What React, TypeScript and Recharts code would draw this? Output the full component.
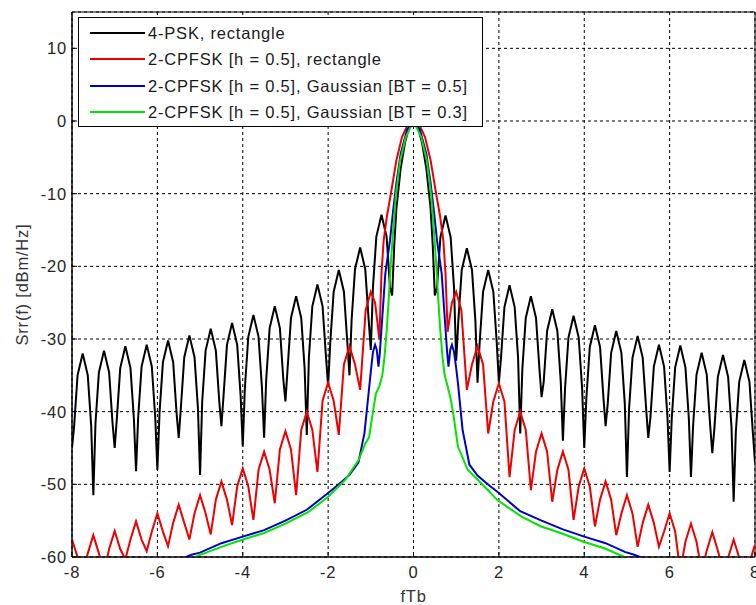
import { LineChart, Line, XAxis, YAxis, CartesianGrid, ReferenceArea, Legend } from "recharts"

const FONT = '"Liberation Sans", Arial, sans-serif'

const xTicks = [-8, -6, -4, -2, 0, 2, 4, 6, 8]
const yTicks = [-60, -50, -40, -30, -20, -10, 0, 10]

// [fTb, dBm/Hz]
const psk4Rect: [number, number][] = [
  [-8, -45],
  [-7.95, -42], [-7.87, -35], [-7.75, -32.0], [-7.63, -35], [-7.55, -42], [-7.5, -51.5],
  [-7.45, -41.6], [-7.37, -34.6], [-7.25, -31.6], [-7.13, -34.6], [-7.05, -41.6], [-7.0, -45],
  [-6.95, -41], [-6.87, -34], [-6.75, -31.0], [-6.63, -34], [-6.55, -41], [-6.5, -48.2],
  [-6.45, -40.8], [-6.37, -33.8], [-6.25, -30.8], [-6.13, -33.8], [-6.05, -40.8], [-6.0, -48],
  [-5.95, -40.2], [-5.87, -33.2], [-5.75, -30.2], [-5.63, -33.2], [-5.55, -40.2], [-5.5, -43.6],
  [-5.45, -39.5], [-5.37, -32.5], [-5.25, -29.5], [-5.13, -32.5], [-5.05, -39.5], [-5.0, -48.7],
  [-4.95, -38.6], [-4.87, -31.6], [-4.75, -28.6], [-4.63, -31.6], [-4.55, -38.6], [-4.5, -42],
  [-4.45, -37.8], [-4.37, -30.8], [-4.25, -27.8], [-4.13, -30.8], [-4.05, -37.8], [-4.0, -44.8],
  [-3.95, -36.7], [-3.87, -29.7], [-3.75, -26.7], [-3.63, -29.7], [-3.55, -36.7], [-3.5, -43.6],
  [-3.45, -35.5], [-3.37, -28.5], [-3.25, -25.5], [-3.13, -28.5], [-3.05, -35.5], [-3.0, -38.6],
  [-2.95, -34.1], [-2.87, -27.1], [-2.75, -24.1], [-2.63, -27.1], [-2.55, -34.1], [-2.5, -43.2],
  [-2.45, -32.5], [-2.37, -25.5], [-2.25, -22.5], [-2.13, -25.5], [-2.05, -32.5], [-2.0, -36.5],
  [-1.95, -30.5], [-1.87, -23.5], [-1.75, -20.5], [-1.63, -23.5], [-1.55, -30.5], [-1.5, -35],
  [-1.45, -27.4], [-1.37, -20.4], [-1.25, -17.4], [-1.13, -20.4], [-1.05, -27.4], [-1.0, -31.5],
  [-0.95, -22.9], [-0.87, -15.9], [-0.75, -12.9], [-0.63, -15.9], [-0.55, -22.9], [-0.5, -24],
  [-0.45, -17], [-0.4, -12], [-0.3, -6.5], [-0.2, -3], [-0.1, -0.8], [0, 0],
  [0.1, -0.8], [0.2, -3], [0.3, -6.5], [0.4, -12], [0.45, -17], [0.5, -24],
  [0.55, -23], [0.63, -16], [0.75, -13.0], [0.87, -16], [0.95, -23], [1.0, -33],
  [1.05, -27.5], [1.13, -20.5], [1.25, -17.5], [1.37, -20.5], [1.45, -27.5], [1.5, -36],
  [1.55, -30.5], [1.63, -23.5], [1.75, -20.5], [1.87, -23.5], [1.95, -30.5], [2.0, -36],
  [2.05, -32.6], [2.13, -25.6], [2.25, -22.6], [2.37, -25.6], [2.45, -32.6], [2.5, -43],
  [2.55, -34.1], [2.63, -27.1], [2.75, -24.1], [2.87, -27.1], [2.95, -34.1], [3.0, -38],
  [3.05, -35.9], [3.13, -28.9], [3.25, -25.9], [3.37, -28.9], [3.45, -35.9], [3.5, -44],
  [3.55, -36.8], [3.63, -29.8], [3.75, -26.8], [3.87, -29.8], [3.95, -36.8], [4.0, -45],
  [4.05, -38.1], [4.13, -31.1], [4.25, -28.1], [4.37, -31.1], [4.45, -38.1], [4.5, -42],
  [4.55, -38.9], [4.63, -31.9], [4.75, -28.9], [4.87, -31.9], [4.95, -38.9], [5.0, -49],
  [5.05, -39.6], [5.13, -32.6], [5.25, -29.6], [5.37, -32.6], [5.45, -39.6], [5.5, -43.6],
  [5.55, -40.8], [5.63, -33.8], [5.75, -30.8], [5.87, -33.8], [5.95, -40.8], [6.0, -48.3],
  [6.05, -40.9], [6.13, -33.9], [6.25, -30.9], [6.37, -33.9], [6.45, -40.9], [6.5, -49],
  [6.55, -41.9], [6.63, -34.9], [6.75, -31.9], [6.87, -34.9], [6.95, -41.9], [7.0, -45.7],
  [7.05, -42.2], [7.13, -35.2], [7.25, -32.2], [7.37, -35.2], [7.45, -42.2], [7.5, -52.4],
  [7.55, -42.9], [7.63, -35.9], [7.75, -32.9], [7.87, -35.9], [7.95, -42.9], [8.0, -47],
]

const cpfskRect: [number, number][] = [
  [-8, -57.6], [-7.87, -60], [-7.75, -62], [-7.63, -59.5], [-7.5, -57], [-7.37, -59.5],
  [-7.25, -62], [-7.13, -58.9], [-7.0, -56.4], [-6.87, -58.9],
  [-6.75, -60.3], [-6.63, -57.6], [-6.5, -55.1], [-6.37, -57.6],
  [-6.25, -59.2], [-6.13, -56.5], [-6.0, -54], [-5.87, -56.5],
  [-5.75, -58.5], [-5.63, -55.3], [-5.5, -52.8], [-5.37, -55.3],
  [-5.25, -57.6], [-5.13, -54], [-5.0, -51.5], [-4.87, -54],
  [-4.75, -56.9], [-4.63, -52.1], [-4.5, -49.6], [-4.37, -52.1],
  [-4.25, -55.6], [-4.13, -50.3], [-4.0, -47.8], [-3.87, -50.3],
  [-3.75, -54.9], [-3.63, -48], [-3.5, -45.5], [-3.37, -48],
  [-3.25, -52.6], [-3.13, -45.2], [-3.0, -42.7], [-2.87, -45.2],
  [-2.75, -51.5], [-2.63, -42.5], [-2.5, -40], [-2.37, -42.5],
  [-2.25, -48.3], [-2.13, -38.5], [-2.0, -36], [-1.87, -38.5],
  [-1.75, -43.2], [-1.63, -33.5], [-1.5, -31], [-1.37, -33.5],
  [-1.25, -37], [-1.12, -26], [-1.0, -23.5], [-0.9, -25],
  [-0.8, -30], [-0.75, -21], [-0.7, -16.5], [-0.62, -13], [-0.53, -10],
  [-0.4, -5.4], [-0.27, -2.2], [-0.15, -0.7], [0, 0],
  [0.15, -0.7], [0.27, -2.2], [0.4, -5.4], [0.53, -10], [0.62, -13], [0.7, -16.5],
  [0.75, -21], [0.8, -29], [0.9, -25], [1.0, -23.5], [1.12, -26],
  [1.25, -37], [1.37, -33.5], [1.5, -31], [1.63, -33.5],
  [1.75, -43], [1.87, -38.6], [2.0, -36.1], [2.13, -38.6],
  [2.25, -49], [2.37, -42.5], [2.5, -40], [2.63, -42.5],
  [2.75, -50.8], [2.87, -45.5], [3.0, -43], [3.13, -45.5],
  [3.25, -52.4], [3.37, -48], [3.5, -45.5], [3.63, -48],
  [3.75, -54.9], [3.87, -50.3], [4.0, -47.8], [4.13, -50.3],
  [4.25, -55.8], [4.37, -52.1], [4.5, -49.6], [4.63, -52.1],
  [4.75, -57], [4.87, -54], [5.0, -51.5], [5.13, -54],
  [5.25, -58.6], [5.37, -55.3], [5.5, -52.8], [5.63, -55.3],
  [5.75, -58.6], [5.87, -56.5], [6.0, -54], [6.13, -56.5],
  [6.25, -62], [6.37, -57.9], [6.5, -55.4], [6.63, -57.9],
  [6.75, -62], [6.87, -59.1], [7.0, -56.6], [7.13, -59.1],
  [7.25, -62], [7.37, -60.1], [7.5, -57.6], [7.63, -60.1],
  [7.75, -62], [7.87, -60.8], [8.0, -58.3],
]

const cpfskGauss05: [number, number][] = [
  [-5.45, -60.3], [-5.2, -59.7], [-5.0, -59.4], [-4.5, -58.1], [-4.0, -57.2],
  [-3.5, -56.3], [-3.0, -55], [-2.5, -53.5], [-2.0, -51.2], [-1.75, -50],
  [-1.5, -48.7], [-1.29, -47], [-1.15, -43], [-1.07, -38.5], [-1.0, -34.5],
  [-0.95, -31.8], [-0.9, -30.8], [-0.86, -31.5], [-0.82, -33.8], [-0.79, -32],
  [-0.74, -27.8], [-0.66, -21], [-0.55, -16.4], [-0.48, -12.5], [-0.4, -8.5],
  [-0.3, -4.5], [-0.15, -1.2], [0, 0],
  [0.15, -1.2], [0.3, -4.5], [0.4, -8.5], [0.48, -12.5], [0.55, -16.4],
  [0.66, -21], [0.74, -27.8], [0.79, -32], [0.82, -33.8], [0.86, -31.5],
  [0.9, -30.8], [0.95, -31.8], [1.0, -34], [1.04, -36], [1.15, -42.5],
  [1.31, -47.3], [1.5, -48.8], [1.74, -50], [2.0, -51.2], [2.5, -53.7],
  [3.0, -55], [3.5, -56.2], [4.0, -57.2], [4.5, -58.1], [4.95, -59.3],
  [5.17, -59.7], [5.45, -60.3],
]

const cpfskGauss03: [number, number][] = [
  [-5.26, -60.4], [-5.0, -59.7], [-4.5, -58.6], [-4.0, -57.6], [-3.5, -56.7],
  [-3.0, -55.4], [-2.46, -53.8], [-2.0, -51.7], [-1.6, -49.4], [-1.29, -46.7],
  [-1.13, -44.4], [-1.04, -43.5], [-0.95, -40], [-0.88, -37.5], [-0.8, -36.5],
  [-0.73, -35], [-0.68, -32.5], [-0.63, -29], [-0.58, -24.5], [-0.53, -19.5],
  [-0.47, -14.5], [-0.41, -10], [-0.31, -5.4], [-0.18, -2.2], [0, 0],
  [0.18, -2.2], [0.31, -5.4], [0.41, -10], [0.47, -14.5], [0.53, -19.5],
  [0.58, -24.5], [0.63, -29], [0.68, -32.5], [0.73, -35], [0.8, -36.5],
  [0.88, -38.5], [0.95, -41], [1.04, -44.8], [1.27, -48], [1.66, -50.3],
  [1.97, -52.2], [2.52, -54.4], [2.99, -55.8], [3.45, -56.7], [3.98, -57.9],
  [4.47, -58.8], [4.94, -60], [5.2, -60.5],
]

const series = [
  { name: "4-PSK, rectangle", color: "#000000", points: psk4Rect },
  { name: "2-CPFSK [h = 0.5], rectangle", color: "#ee0000", points: cpfskRect },
  { name: "2-CPFSK [h = 0.5], Gaussian [BT = 0.5]", color: "#0000c8", points: cpfskGauss05 },
  { name: "2-CPFSK [h = 0.5], Gaussian [BT = 0.3]", color: "#00e600", points: cpfskGauss03 },
]

function LegendBox({ payload }: any) {
  // keep the plotting order (recharts may hand the payload back reversed)
  const order = series.map((s) => s.name)
  const items = payload && payload.length
    ? [...payload].sort((a: any, b: any) => order.indexOf(a.value) - order.indexOf(b.value))
    : series.map((s) => ({ value: s.name, color: s.color }))
  return (
    <div
      style={{
        width: 405,
        height: 110,
        boxSizing: "border-box",
        border: "1px solid #000",
        background: "#fff",
        paddingTop: 1.5,
      }}
    >
      {items.map((p: any) => (
        <div key={p.value} style={{ height: 26.5, display: "flex", alignItems: "center" }}>
          <span style={{ display: "inline-block", width: 55, height: 2, marginLeft: 11, marginRight: 3, background: p.color }} />
          <span style={{ fontSize: 16.5, color: "#1a1a1a", lineHeight: 1, whiteSpace: "nowrap" }}>{p.value}</span>
        </div>
      ))}
    </div>
  )
}

function YTitle({ viewBox }: any) {
  const cx = (viewBox?.x ?? 0) + 22
  const cy = (viewBox?.y ?? 12) + (viewBox?.height ?? 545) / 2
  return (
    <text
      x={cx}
      y={cy}
      transform={`rotate(-90 ${cx} ${cy})`}
      textAnchor="middle"
      dominantBaseline="central"
      fill="#333"
      fontSize={16.5}
    >
      Srr(f) [dBm/Hz]
    </text>
  )
}

export default function App() {
  const tickStyle = { fill: "#262626", fontSize: 16.5 }
  return (
    <div style={{ position: "absolute", left: 0, top: 0, background: "#fff", fontFamily: FONT, letterSpacing: "0.8px" }}>
      <LineChart width={756} height={605} margin={{ top: 12, right: 1, bottom: 0, left: 0 }}>
        <CartesianGrid stroke="#000" strokeDasharray="3 3" strokeWidth={1} />
        <XAxis
          type="number"
          dataKey="x"
          domain={[-8, 8]}
          ticks={xTicks}
          interval={0}
          allowDataOverflow
          height={48}
          stroke="#000"
          tickSize={-5}
          tickMargin={14}
          tick={tickStyle}
          label={{ value: "fTb", position: "insideBottom", offset: 3, fill: "#333", fontSize: 16.5 }}
        />
        <XAxis
          xAxisId="top"
          orientation="top"
          type="number"
          dataKey="x"
          domain={[-8, 8]}
          ticks={xTicks}
          interval={0}
          height={0}
          stroke="#000"
          tickSize={-5}
          tick={false}
        />
        <YAxis
          type="number"
          domain={[-60, 15]}
          ticks={yTicks}
          interval={0}
          allowDataOverflow
          width={72}
          stroke="#000"
          tickSize={-5}
          tickMargin={10}
          tick={tickStyle}
          label={{ content: (p: any) => <YTitle {...p} /> }}
        />
        <ReferenceArea x1={-8} x2={8} y1={-60} y2={15} fill="none" stroke="#000" strokeWidth={1} ifOverflow="visible" />
        {series.map((s) => (
          <Line
            key={s.name}
            name={s.name}
            data={s.points.map(([x, y]) => ({ x, y }))}
            dataKey="y"
            type="linear"
            stroke={s.color}
            strokeWidth={2}
            dot={false}
            activeDot={false}
            isAnimationActive={false}
          />
        ))}
        <Legend
          layout="horizontal"
          verticalAlign="middle"
          align="center"
          content={(p: any) => <LegendBox payload={p.payload} />}
          wrapperStyle={{ left: 78, top: 17, width: 405, height: 110 }}
        />
      </LineChart>
    </div>
  )
}
